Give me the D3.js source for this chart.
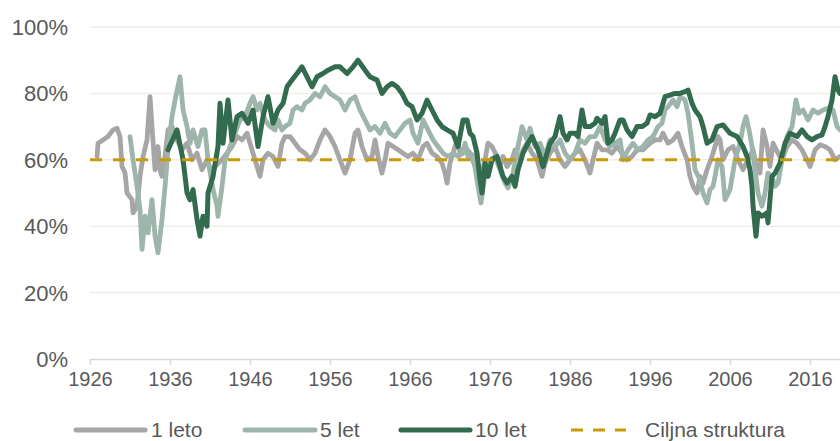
<!DOCTYPE html>
<html><head><meta charset="utf-8">
<script src="https://cdn.jsdelivr.net/npm/d3@7"></script>
<style>body{margin:0;background:#fff}svg{display:block}text{font-family:"Liberation Sans",Arial,sans-serif;fill:#595959}</style>
</head><body><svg id="c" width="840" height="441"></svg>
<script>
const xTicks = [1926,1936,1946,1956,1966,1976,1986,1996,2006,2016];
const yTicks = [0,20,40,60,80,100];
const target = 60;
const seriesNames = ["1 leto","5 let","10 let"];
const legendTarget = "Ciljna struktura";

const leto1 = [[1926.88,61],[1927.0,65],[1927.63,66],[1928.25,67],[1928.88,69],[1929.38,69.5],[1929.75,67],[1930.0,58],[1930.38,56],[1930.63,50],[1931.25,48],[1931.38,44],[1931.88,46],[1932.25,55],[1932.63,61],[1933.13,66],[1933.5,79],[1933.75,70],[1934.13,57],[1934.5,64],[1934.75,57],[1935.0,55],[1935.38,61],[1935.75,69],[1936.25,70],[1936.88,66],[1937.5,63],[1938.13,65],[1938.75,60],[1939.38,62],[1940.0,57],[1940.63,60],[1941.25,56],[1941.63,58],[1942.5,60],[1943.13,62],[1943.75,64],[1944.38,67],[1945.0,66],[1945.63,68],[1946.25,63],[1946.88,58],[1947.25,55],[1947.63,60],[1948.25,62],[1948.88,61],[1949.5,58],[1950.0,65],[1950.38,67],[1951.0,67],[1951.63,65],[1952.25,63],[1952.88,62],[1953.5,60],[1954.13,62],[1954.75,66],[1955.38,69],[1956.0,67],[1956.63,64],[1957.25,60],[1957.88,56],[1958.5,60],[1959.13,68],[1959.5,69],[1960.0,64],[1960.63,60],[1961.25,61],[1961.63,66],[1962.0,61],[1962.5,56],[1962.88,60],[1963.25,65],[1963.88,64],[1964.5,63],[1965.13,62],[1965.75,61],[1966.38,62],[1967.0,60],[1967.63,64],[1968.13,65],[1968.75,62],[1969.38,61],[1970.0,59],[1970.38,56],[1970.63,53],[1971.0,59],[1971.38,62],[1971.88,66],[1972.25,62],[1972.88,64],[1973.5,62],[1974.13,58],[1974.75,54],[1975.38,60],[1975.75,65],[1976.25,64],[1976.88,61],[1977.25,58],[1977.63,61],[1978.13,58],[1978.75,60],[1979.13,63],[1979.75,60],[1980.13,63],[1980.63,65],[1981.25,62],[1981.88,60],[1982.5,55],[1982.88,59],[1983.5,62],[1984.13,64],[1984.75,60],[1985.38,58],[1986.0,60],[1986.63,62],[1987.25,63],[1987.88,60],[1988.5,56],[1988.88,60],[1989.38,65],[1990.0,63],[1990.63,63],[1991.25,62],[1991.88,64],[1992.5,62],[1993.13,60],[1993.75,61],[1994.38,63],[1995.13,63],[1996.0,65],[1996.63,66],[1997.25,66],[1997.63,68],[1998.25,65],[1998.88,66],[1999.5,68],[2000.0,64],[2000.63,60],[2001.0,55],[2001.38,52],[2001.88,50],[2002.25,55],[2002.63,53],[2003.13,57],[2003.75,61],[2004.13,64],[2004.5,67],[2004.75,66],[2005.13,60],[2005.75,63],[2006.38,64],[2007.0,60],[2007.63,57],[2008.25,60],[2008.88,63],[2009.38,57],[2009.75,56],[2010.13,69],[2010.63,64],[2011.0,58],[2011.38,65],[2012.0,62],[2012.5,60],[2013.13,64],[2013.75,66],[2014.38,65],[2015.0,63],[2015.63,60],[2016.0,58],[2016.63,63],[2017.25,64.5],[2017.88,64],[2018.5,63],[2019.13,60],[2019.75,61]];

const let5 = [[1931.0,67],[1931.38,60],[1931.88,52],[1932.25,45],[1932.5,33],[1932.88,43],[1933.25,38],[1933.75,48],[1934.13,37],[1934.5,32],[1935.0,42],[1935.38,52],[1935.75,63],[1936.25,73],[1936.63,78],[1937.25,85],[1937.63,75],[1938.13,70],[1938.5,65],[1938.88,69],[1939.5,64],[1940.0,69],[1940.38,69],[1940.75,60],[1941.38,51],[1941.88,46],[1942.0,43],[1942.5,52],[1942.88,60],[1943.5,64],[1944.13,68],[1944.75,72],[1945.38,73],[1946.0,77],[1946.38,79],[1946.88,75],[1947.25,77],[1947.88,72],[1948.5,70],[1949.13,69],[1949.5,72],[1950.0,69],[1950.38,70],[1951.0,71],[1951.38,75],[1951.88,76],[1952.5,75],[1952.88,77],[1953.5,78],[1954.13,80],[1954.75,79],[1955.38,82],[1956.0,80],[1956.63,79],[1957.25,78],[1957.88,75],[1958.5,78],[1959.13,79],[1959.75,75],[1960.38,72],[1961.0,69],[1961.63,70],[1962.25,68],[1962.88,71],[1963.5,68],[1964.13,67],[1964.75,69],[1965.38,71],[1966.0,72],[1966.38,68],[1967.0,65],[1967.63,72],[1968.25,69],[1968.88,66],[1969.5,64],[1970.13,62],[1970.75,61],[1971.38,62],[1972.0,61],[1972.63,62],[1972.88,65],[1973.25,61],[1973.88,61.5],[1974.5,52],[1974.88,47],[1975.38,56],[1976.0,60],[1976.63,61],[1977.25,57],[1977.88,53],[1978.25,51.5],[1978.88,56],[1979.5,64],[1980.0,70],[1980.63,66],[1981.0,69.5],[1981.63,64],[1982.25,65],[1982.88,61],[1983.5,66],[1984.13,64],[1984.75,66],[1985.38,62],[1986.0,60],[1986.63,62],[1987.25,66],[1987.88,65],[1988.5,67],[1989.13,67],[1989.75,70],[1990.38,66],[1991.0,64],[1991.63,65],[1992.25,66],[1992.63,60],[1993.25,63],[1993.88,65],[1994.5,63],[1995.13,64],[1995.75,66],[1996.38,67],[1997.0,70],[1997.5,71],[1997.88,75],[1998.25,76],[1998.88,78],[1999.38,76],[1999.75,79],[2000.38,78],[2000.75,74],[2001.25,65],[2001.63,57],[2002.25,54],[2002.63,50],[2003.13,47],[2003.5,51],[2003.88,52],[2004.13,55],[2004.5,60],[2005.0,58],[2005.38,48],[2006.0,51],[2006.63,60],[2007.25,65],[2007.63,70],[2008.0,73],[2008.38,69],[2008.75,64],[2009.13,57],[2009.5,50],[2010.0,46],[2010.38,50],[2010.75,56],[2011.25,55],[2011.63,52],[2012.0,53],[2012.5,60],[2013.13,67],[2013.75,70],[2014.25,78],[2014.63,74],[2015.13,75],[2015.75,72],[2016.38,75],[2017.0,74],[2017.63,75],[2018.25,75.5],[2018.88,75],[2019.38,70],[2019.75,69]];

const let10 = [[1935.75,63],[1936.88,69],[1937.63,60],[1938.13,50],[1938.5,48],[1938.88,51],[1939.38,42],[1939.75,37],[1940.13,43],[1940.63,40],[1940.75,50],[1941.38,55],[1942.0,64],[1942.25,77],[1942.63,65],[1943.25,78],[1943.75,66],[1944.38,73],[1945.0,74],[1945.75,71],[1946.38,75],[1947.0,64],[1947.63,73],[1948.25,79],[1948.88,71],[1949.5,75],[1950.13,77],[1950.63,82],[1951.25,84],[1951.88,86],[1952.5,88],[1953.13,85],[1953.75,82],[1954.38,85],[1955.13,86],[1955.75,87],[1956.63,88],[1957.25,88],[1958.13,86],[1958.88,88],[1959.5,90],[1960.38,87],[1961.0,85],[1961.88,84],[1962.5,80],[1963.13,82],[1963.75,83],[1964.38,82],[1965.0,80],[1965.63,77],[1966.25,76],[1966.88,72],[1967.5,74],[1968.13,78],[1968.75,75],[1969.38,72],[1970.0,70],[1970.63,69],[1971.38,68],[1972.0,64],[1972.63,72],[1973.13,72],[1973.5,68],[1973.88,67],[1974.38,62],[1974.75,54],[1975.0,50],[1975.38,59],[1975.75,55],[1976.25,60],[1976.88,61],[1977.25,58],[1977.63,55],[1978.13,53],[1978.75,55],[1979.13,52],[1979.5,57],[1980.13,62],[1980.75,65],[1981.25,67],[1981.63,65],[1982.0,63],[1982.63,58],[1983.13,62],[1983.5,65],[1984.13,67],[1984.75,73],[1985.13,68],[1985.63,66],[1986.0,68],[1986.63,68],[1987.0,67],[1987.5,75],[1987.88,70],[1988.5,70],[1989.13,71],[1989.38,72.5],[1990.0,71],[1990.38,73],[1990.75,65],[1991.25,66],[1991.63,68],[1992.25,72],[1992.63,72],[1993.13,69],[1993.75,67],[1994.38,70],[1995.0,70],[1995.63,71],[1996.0,73.5],[1996.63,73],[1997.25,74],[1997.88,79],[1998.5,79.5],[1999.13,80],[1999.75,80],[2000.38,80.5],[2000.75,81],[2001.25,77],[2001.63,75],[2002.25,73],[2002.63,70],[2003.13,65],[2003.75,66],[2004.38,70],[2005.13,70.5],[2006.0,68],[2006.88,67],[2007.63,64],[2008.13,61],[2008.5,57],[2008.75,52],[2008.88,46],[2009.25,37],[2009.5,44],[2010.0,43],[2010.63,44],[2010.75,41],[2011.0,48],[2011.25,55],[2011.63,56],[2012.25,59],[2012.88,65],[2013.5,68],[2014.38,67],[2015.0,69],[2015.63,67],[2016.25,66],[2016.88,67],[2017.5,67.5],[2017.88,70],[2018.25,73],[2018.75,78],[2019.13,85],[2019.5,81],[2019.75,80]];

const colors = ["#a6a6a6","#9db5aa","#336b4e"];
const targetColor = "#c99a06";

const svg = d3.select("#c");
const x = d3.scaleLinear().domain([1926, 2019.75]).range([90, 840]);
const y = d3.scaleLinear().domain([0, 100]).range([359, 27]);

// gridlines
svg.append("g").selectAll("line").data(yTicks.filter(d=>d>0)).join("line")
  .attr("x1", 90).attr("x2", 840).attr("y1", d=>y(d)).attr("y2", d=>y(d))
  .attr("stroke", "#eeede6").attr("stroke-width", 1.5);

// y labels
svg.append("g").selectAll("text").data(yTicks).join("text")
  .attr("x", 68).attr("y", d=>y(d)).attr("dy", "0.36em")
  .attr("text-anchor", "end").attr("font-size", 22)
  .text(d=>d+"%");

// x axis
const xAxis = d3.axisBottom(x).tickValues(xTicks).tickFormat(d3.format("d")).tickSize(6).tickSizeOuter(0);
const gx = svg.append("g").attr("transform", "translate(0,359)").call(xAxis);
gx.select(".domain").attr("stroke", "#d9d9d9").attr("stroke-width", 1.5);
gx.selectAll(".tick line").attr("stroke", "#d9d9d9").attr("stroke-width", 1.5);
gx.selectAll(".tick text").attr("font-size", 20).attr("fill", "#595959").attr("dy", "0.9em")
  .attr("font-family", '"Liberation Sans",Arial,sans-serif');

const line = d3.line().x(d=>x(d[0])).y(d=>y(d[1])).curve(d3.curveLinear);
[leto1, let5, let10].forEach((s, i) => {
  svg.append("path").datum(s).attr("d", line).attr("fill", "none")
    .attr("stroke", colors[i]).attr("stroke-width", i === 2 ? 5 : 4.8)
    .attr("stroke-linejoin", "round").attr("stroke-linecap", "round");
});

// target line
svg.append("line").attr("x1", x(1926)).attr("x2", x(2019.75)).attr("y1", y(target)).attr("y2", y(target))
  .attr("stroke", targetColor).attr("stroke-width", 3).attr("stroke-dasharray", "12,11");

// legend
const lg = svg.append("g");
const items = [
  {name: seriesNames[0], c: colors[0], x0: 76, x1: 145, tx: 151, dash: null},
  {name: seriesNames[1], c: colors[1], x0: 245, x1: 315, tx: 320, dash: null},
  {name: seriesNames[2], c: colors[2], x0: 401, x1: 470, tx: 475, dash: null},
  {name: legendTarget, c: targetColor, x0: 571, x1: 626, tx: 645, dash: "12,10"}
];
items.forEach(it => {
  lg.append("line").attr("x1", it.x0).attr("x2", it.x1).attr("y1", 430).attr("y2", 430)
    .attr("stroke", it.c).attr("stroke-width", it.dash ? 3 : 5)
    .attr("stroke-linecap", it.dash ? "butt" : "round")
    .attr("stroke-dasharray", it.dash);
  lg.append("text").attr("x", it.tx).attr("y", 430).attr("dy", "0.35em")
    .attr("font-size", 21)
    .text(it.name);
});
</script></body></html>
